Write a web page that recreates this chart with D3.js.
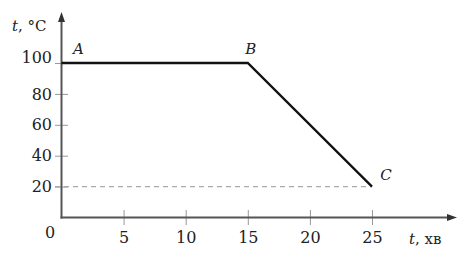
<!DOCTYPE html>
<html><head><meta charset="utf-8">
<script src="https://cdn.jsdelivr.net/npm/d3@7"></script>
<style>body{margin:0;background:#fff}svg{display:block}text{font-family:"DejaVu Serif",serif;fill:#222}</style>
</head><body><svg id="c" width="466" height="255"></svg>
<script>
const timeVals = [0, 15, 25];
const tempVals = [100, 100, 20];
const pointLabels = ["A", "B", "C"];
const xTicks = [5, 10, 15, 20, 25];
const yTicks = [20, 40, 60, 80, 100];
const xTitle = ", хв";
const yTitle = ", °C";

const svg = d3.select("#c");
const x = d3.scaleLinear().domain([0, 25]).range([61.5, 372]);
const y = d3.scaleLinear().domain([0, 100]).range([217.5, 63]);
const axisCol = "#555", tickCol = "#999";

// x ticks
const gx = svg.append("g").attr("transform", "translate(0,210)")
  .call(d3.axisBottom(x).tickValues(xTicks).tickSize(15).tickPadding(7));
gx.select(".domain").remove();
gx.selectAll(".tick line").attr("stroke", tickCol).attr("stroke-width", 1);
gx.selectAll(".tick text").attr("font-size", 16).attr("font-family", "DejaVu Serif").attr("fill", "#222");

// y ticks
const gy = svg.append("g").attr("transform", "translate(68,0)")
  .call(d3.axisLeft(y).tickValues(yTicks).tickSize(13).tickPadding(3));
gy.select(".domain").remove();
gy.selectAll(".tick line").attr("stroke", tickCol).attr("stroke-width", 1);
gy.selectAll(".tick text").attr("font-size", 16).attr("font-family", "DejaVu Serif").attr("fill", "#222")
  .attr("dy", d => d === 100 ? "-0.05em" : "0.32em");

// dashed guide at final temperature
svg.append("line").attr("x1", 55).attr("x2", x(timeVals[2]))
  .attr("y1", y(tempVals[2])).attr("y2", y(tempVals[2]))
  .attr("stroke", "#aaa").attr("stroke-width", 1.3).attr("stroke-dasharray", "5,4");

// axes with arrows
const x0 = x(0), y0 = y(0);
svg.append("line").attr("x1", x0).attr("x2", x0).attr("y1", y0 + 1).attr("y2", 20)
  .attr("stroke", axisCol).attr("stroke-width", 2);
svg.append("path").attr("d", `M${x0},12 L${x0-3.5},22 L${x0+3.5},22 Z`).attr("fill", "#333");
svg.append("line").attr("x1", x0 - 1).attr("x2", 450).attr("y1", y0).attr("y2", y0)
  .attr("stroke", axisCol).attr("stroke-width", 2);
svg.append("path").attr("d", `M457,${y0} L447,${y0-3.5} L447,${y0+3.5} Z`).attr("fill", "#333");

// data line
const pts = timeVals.map((t, i) => [t, tempVals[i]]);
svg.append("path").datum(pts)
  .attr("d", d3.line().x(d => x(d[0])).y(d => y(d[1])))
  .attr("fill", "none").attr("stroke", "#111").attr("stroke-width", 2.3).attr("stroke-linejoin", "miter");

// point labels
const offs = [[17, -9], [3, -9], [14, -7]];
svg.selectAll(".pl").data(pts).enter().append("text")
  .attr("x", (d, i) => x(d[0]) + offs[i][0]).attr("y", (d, i) => y(d[1]) + offs[i][1])
  .attr("text-anchor", "middle").attr("font-size", 15).attr("font-style", "italic")
  .text((d, i) => pointLabels[i]);

// origin
svg.append("text").attr("x", 50).attr("y", 238).attr("text-anchor", "middle").attr("font-size", 16).text("0");

// axis titles
const xt = svg.append("text").attr("x", 409).attr("y", 244).attr("font-size", 15);
xt.append("tspan").attr("font-style", "italic").text("t");
xt.append("tspan").text(xTitle);
const yt = svg.append("text").attr("x", 12).attr("y", 31).attr("font-size", 15);
yt.append("tspan").attr("font-style", "italic").text("t");
yt.append("tspan").text(yTitle);
</script></body></html>
